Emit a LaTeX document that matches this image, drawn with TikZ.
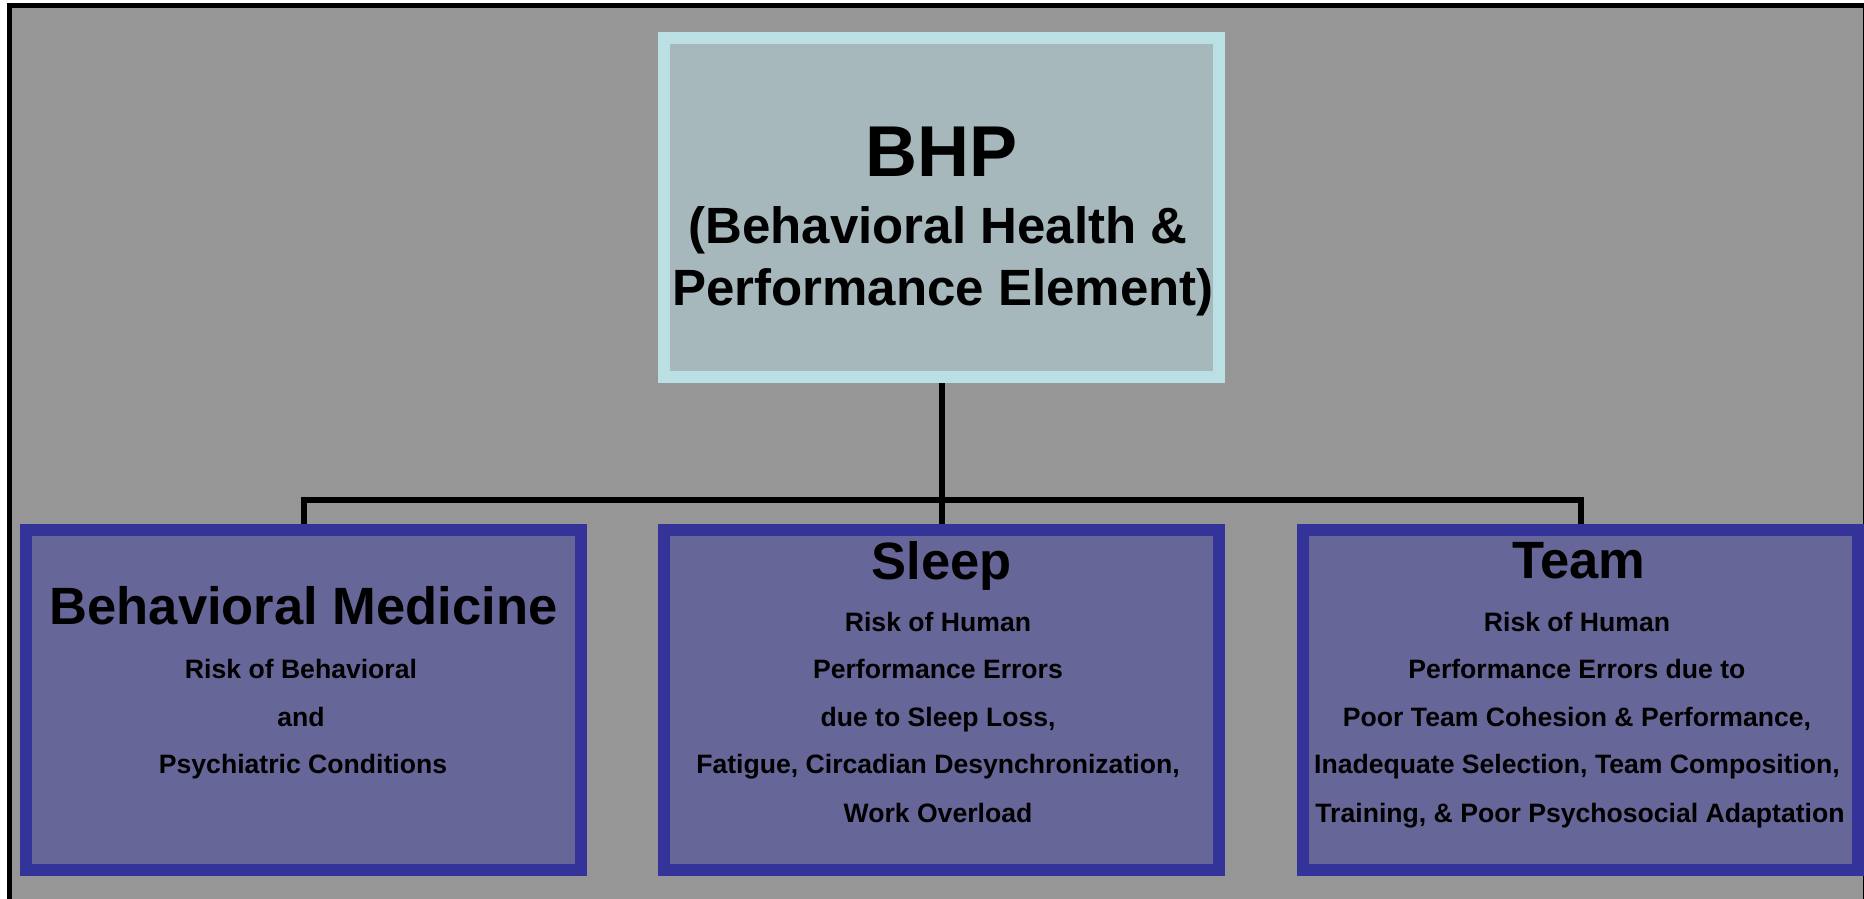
\documentclass[tikz,border=0pt]{standalone}
\usepackage{fontspec}
\setmainfont{Liberation Sans}
\definecolor{bggray}{HTML}{969696}
\definecolor{topborder}{HTML}{BBE0E3}
\definecolor{topfill}{HTML}{A6B8BB}
\definecolor{boxborder}{HTML}{333399}
\definecolor{boxfill}{HTML}{666699}
\tikzset{
  topbox/.style={draw=topborder, fill=topfill, line width=12pt, minimum width=555pt, minimum height=339pt, inner sep=0pt},
  riskbox/.style={draw=boxborder, fill=boxfill, line width=12pt, minimum width=555pt, minimum height=340pt, inner sep=0pt},
  conn/.style={draw=black, line width=6pt},
  txt/.style={anchor=base, inner sep=0pt, font=\bfseries},
  big/.style={txt, font=\fontsize{72}{80}\selectfont\bfseries},
  mid/.style={txt, font=\fontsize{51}{60}\selectfont\bfseries},
  head/.style={txt, font=\fontsize{52.5}{60}\selectfont\bfseries},
  small/.style={txt, font=\fontsize{26.6}{30}\selectfont\bfseries},
}
\begin{document}
\begin{tikzpicture}[x=1pt, y=-1pt]
\useasboundingbox (0,0) rectangle (1864,898);
\clip (0,0) rectangle (1864,898);
\fill[white] (0,0) rectangle (1864,898);
\draw[line width=5pt, fill=bggray] (9.5,5.5) rectangle (1865.5,903);

% boxes
\node[topbox] (bhp) at (941.5,207.5) {};
\node[riskbox] (bm) at (303.5,700) {};
\node[riskbox] (sl) at (941.5,700) {};
\node[riskbox] (tm) at (1580.5,700) {};

% connectors
\coordinate (bus) at (941.5,500);
\draw[conn] (bhp.south) -- (bus);
\draw[conn] (bm.north) -- (bm.north |- bus) -- (tm.north |- bus) -- (tm.north);
\draw[conn] (bus) -- (sl.north);

% top text
\node[big] (t1) at (941.5,176) {BHP};
\node[mid] (t2) at (938,243) {(Behavioral Health \& };
\node[mid] (t3) at (943,305) {Performance Element)};

% behavioral medicine
\node[head] (bm1) at (303.5,624) {Behavioral Medicine};
\node[small] (bm2) at (301,678) {Risk of Behavioral};
\node[small] (bm3) at (301,726) {and};
\node[small] (bm4) at (303,773) {Psychiatric Conditions};

% sleep
\node[head] (sl1) at (942,579) {Sleep};
\node[small] (sl2) at (938,631) {Risk of Human};
\node[small] (sl3) at (938,678) {Performance Errors};
\node[small] (sl4) at (938,726) {due to Sleep Loss,};
\node[small] (sl5) at (938,773) {Fatigue, Circadian Desynchronization,};
\node[small] (sl6) at (938,822) {Work Overload};

% team
\node[head] (tm1) at (1579,578) {Team};
\node[small] (tm2) at (1577,631) {Risk of Human};
\node[small] (tm3) at (1577,678) {Performance Errors due to};
\node[small] (tm4) at (1577,726) {Poor Team Cohesion \& Performance,};
\node[small] (tm5) at (1577,773) {Inadequate Selection, Team Composition,};
\node[small] (tm6) at (1580,822) {Training, \& Poor Psychosocial Adaptation};
\end{tikzpicture}
\end{document}
